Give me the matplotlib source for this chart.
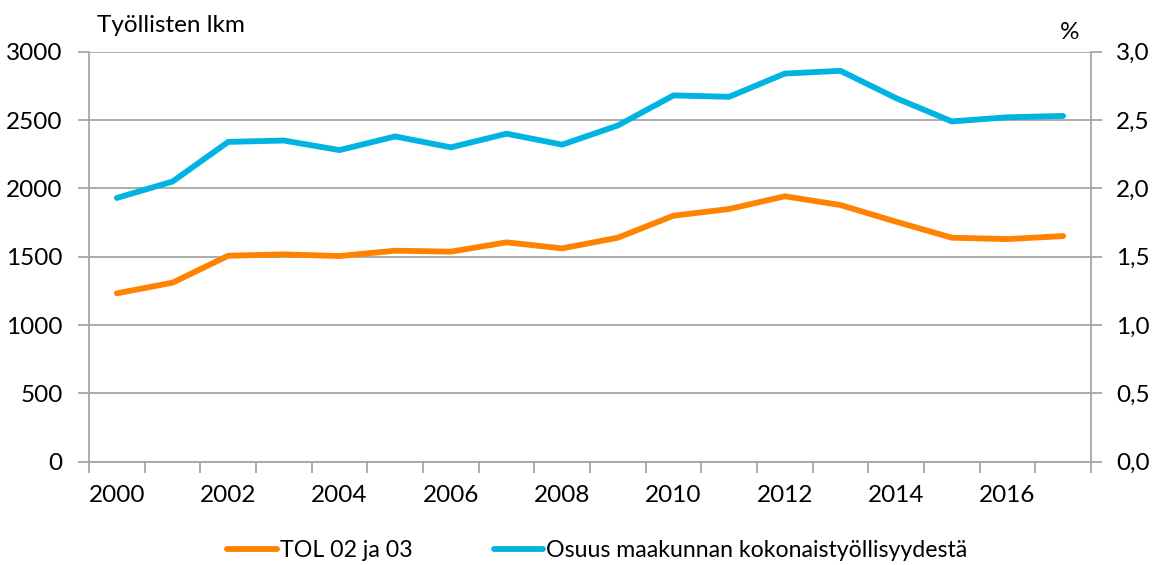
import matplotlib
matplotlib.use('Agg')
import matplotlib.pyplot as plt
from matplotlib.ticker import FixedLocator, FuncFormatter
import numpy as np

'''Työllisten määrä (TOL 02 ja 03) ja osuus maakunnan kokonaistyöllisyydestä'''

plt.rcParams['font.family'] = ['Lato', 'DejaVu Sans']

vuodet = list(range(2000, 2018))
tol_0203 = [1232, 1310, 1507, 1517, 1505, 1544, 1537, 1605, 1561, 1639,
            1800, 1849, 1942, 1878, 1756, 1639, 1629, 1651]
osuus = [1.93, 2.05, 2.34, 2.35, 2.28, 2.38, 2.30, 2.40, 2.32, 2.46,
         2.68, 2.67, 2.84, 2.86, 2.66, 2.49, 2.52, 2.53]
x_labels = [str(v) if v % 2 == 0 else '' for v in vuodet]

ORANSSI = '#ff8300'
SININEN = '#00b4e2'
HARMAA = '#a6a6a6'
fs = 17.5
fs_leg = 16.7

fig = plt.figure(figsize=(11.53, 5.65), dpi=100)
ax = fig.add_axes([0.0772, 0.1828, 0.869, 0.7257])
ax2 = ax.twinx()

x = np.arange(len(vuodet))
l1, = ax.plot(x, tol_0203, color=ORANSSI, lw=4.2, solid_capstyle='round',
              solid_joinstyle='round', label='TOL 02 ja 03')
l2, = ax2.plot(x, osuus, color=SININEN, lw=4.2, solid_capstyle='round',
               solid_joinstyle='round', label='Osuus maakunnan kokonaistyöllisyydestä')

ax.set_xlim(-0.5, len(vuodet) - 0.5)
ax.set_ylim(0, 3000)
ax2.set_ylim(0, 3.0)
ax.set_yticks(range(0, 3001, 500))
ax2.set_yticks(np.arange(0, 3.01, 0.5))
ax2.yaxis.set_major_formatter(FuncFormatter(lambda v, p: f'{v:.1f}'.replace('.', ',')))

# kategoria-akseli: tikit välissä, nimet keskellä
ax.xaxis.set_major_locator(FixedLocator(np.arange(-0.5, len(vuodet), 1)))
ax.xaxis.set_minor_locator(FixedLocator(x))
ax.set_xticklabels([])
ax.set_xticklabels(x_labels, minor=True)
ax.tick_params(axis='x', which='major', length=8, width=1.3, color=HARMAA)
ax.tick_params(axis='x', which='minor', length=0, pad=17, labelsize=fs)

ax.grid(axis='y', color=HARMAA, lw=1.3)
ax.set_axisbelow(True)
ax.tick_params(axis='y', length=8, width=1.3, color=HARMAA, labelsize=fs, pad=11)
ax2.tick_params(axis='y', length=8, width=1.3, color=HARMAA, labelsize=fs, pad=10)

for a in (ax, ax2):
    for s in a.spines.values():
        s.set_visible(False)
ax.spines['left'].set_visible(True)
ax.spines['left'].set_color(HARMAA)
ax.spines['left'].set_linewidth(1.3)
ax.spines['bottom'].set_visible(True)
ax.spines['bottom'].set_color(HARMAA)
ax.spines['bottom'].set_linewidth(1.3)
ax2.spines['right'].set_visible(True)
ax2.spines['right'].set_color(HARMAA)
ax2.spines['right'].set_linewidth(1.3)

fig.text(0.084, 0.955, 'Työllisten lkm', fontsize=fs, va='center', ha='left')
fig.text(0.928, 0.943, '%', fontsize=fs, va='center', ha='center')

fig.legend(handles=[l1, l2], loc='center', bbox_to_anchor=(0.518, 0.026), ncol=2,
           frameon=False, fontsize=fs_leg, handlelength=2.15, handletextpad=0.13,
           columnspacing=3.5)

plt.savefig('out.png', dpi=100)
